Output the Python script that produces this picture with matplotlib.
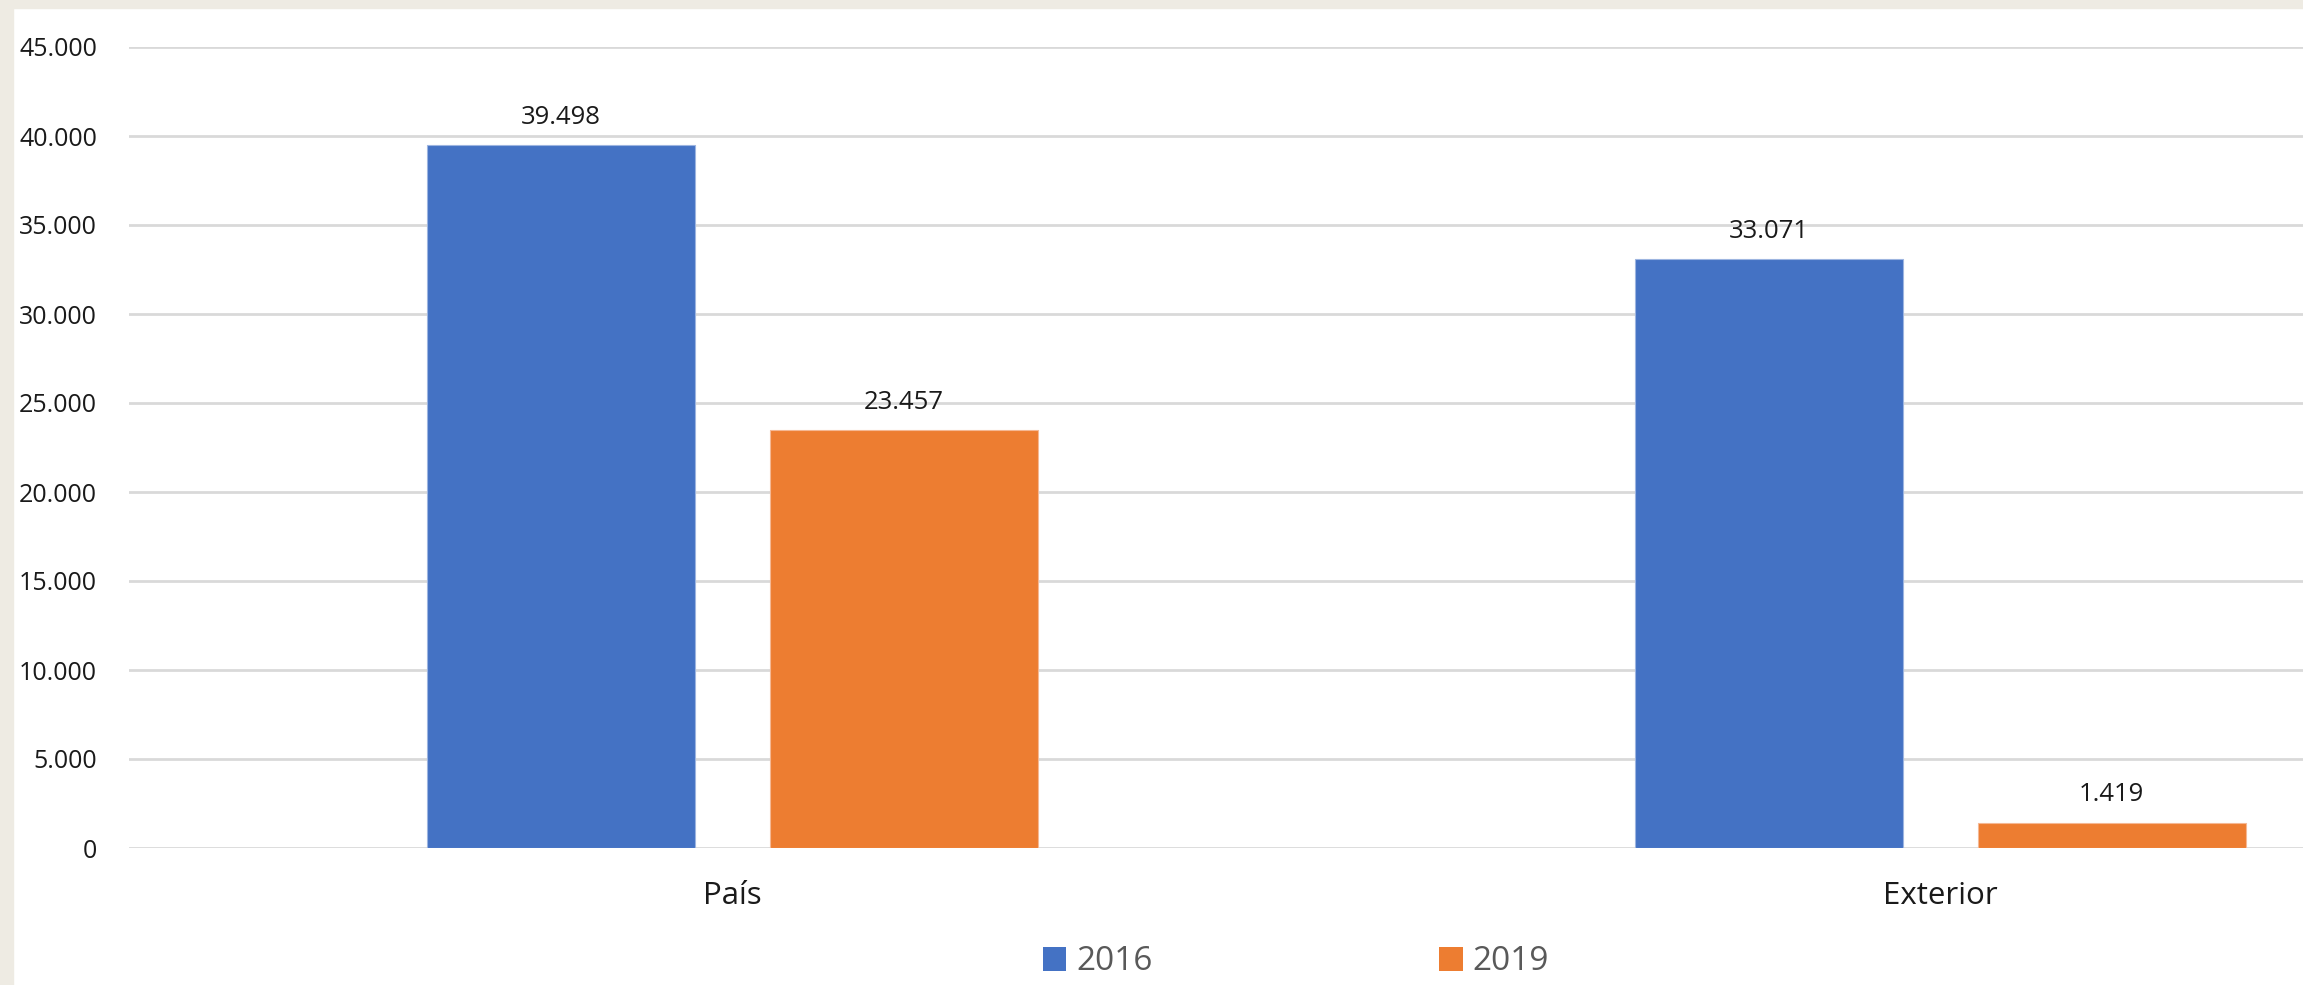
import numpy as np
import matplotlib.pyplot as plt
from matplotlib.patches import Rectangle

categorias = ["País", "Exterior"]
anos = ["2016", "2019"]
v2016 = [39498, 33071]
v2019 = [23457, 1419]
colores = ["#4472C4", "#ED7D31"]
yticks = np.arange(0, 45001, 5000)

plt.rcParams['font.family'] = ['Open Sans', 'DejaVu Sans']

W, H = 2303, 985
fig = plt.figure(figsize=(W / 100, H / 100), dpi=100)
fig.patch.set_facecolor("white")

# marco beige a la izquierda y arriba
fig.patches.append(Rectangle((0, 0), 13 / W, 1, transform=fig.transFigure,
                             color="#EEEBE3", zorder=0))
fig.patches.append(Rectangle((0, 1 - 8 / H), 1, 8 / H, transform=fig.transFigure,
                             color="#EEEBE3", zorder=0))

ax = fig.add_axes([129 / W, (H - 848) / H, (W - 129) / W, (848 - 47) / H])
ax.set_facecolor("none")

x = np.arange(len(categorias))
w = 0.222
off = 0.142
b1 = ax.bar(x - off, v2016, w, color=colores[0], label=anos[0], zorder=3,
            edgecolor="#9DB5E0", linewidth=0.8)
b2 = ax.bar(x + off, v2019, w, color=colores[1], label=anos[1], zorder=3,
            edgecolor="#F5B894", linewidth=0.8)

def fmt(v):
    return f"{v:,}".replace(",", ".")

for barras, vals in [(b1, v2016), (b2, v2019)]:
    for b, v in zip(barras, vals):
        ax.annotate(fmt(v), (b.get_x() + b.get_width() / 2, v),
                    xytext=(0, 11), textcoords="offset points",
                    ha="center", va="bottom", fontsize=18.5, color="#1a1a1a")

ax.set_xlim(-0.5, (W - 732) / 1208)
ax.set_ylim(0, 45000)
ax.set_yticks(yticks)
ax.set_yticklabels([fmt(t) for t in yticks], fontsize=18, color="#1a1a1a")
ax.set_xticks(x)
ax.set_xticklabels(categorias, fontsize=22.5, color="#1a1a1a")
ax.tick_params(axis="y", length=0, pad=23)
ax.tick_params(axis="x", length=0, pad=24)
ax.grid(axis="y", color="#D9D9D9", linewidth=2, zorder=0)
for s in ax.spines.values():
    s.set_visible(False)

leg = fig.legend(handles=[b1, b2], labels=anos, loc="center",
                 bbox_to_anchor=(1296 / W, 1 - 962 / H), ncol=2, frameon=False,
                 fontsize=24, handlelength=0.7, handleheight=0.7,
                 handletextpad=0.3, columnspacing=8.6)
for t in leg.get_texts():
    t.set_color("#595959")
for h in leg.legend_handles:
    h.set_edgecolor("none")

fig.savefig("out.png", dpi=100)
